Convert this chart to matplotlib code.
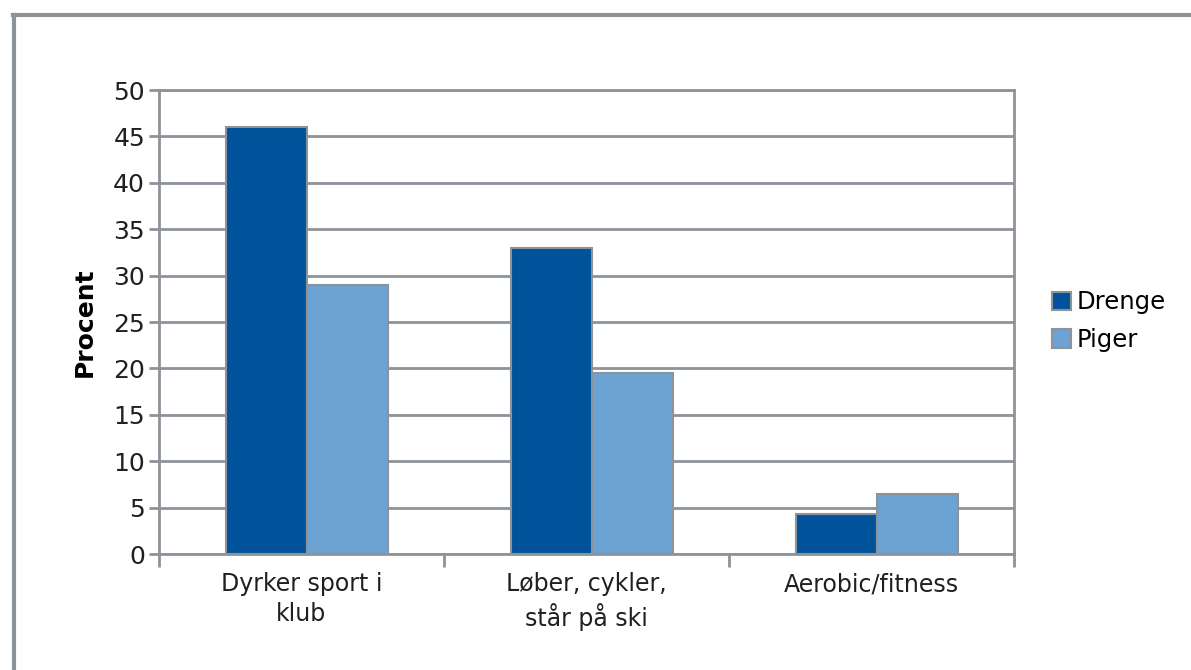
import matplotlib.pyplot as plt
from matplotlib.lines import Line2D

categories = ["Dyrker sport i\nklub", "Løber, cykler,\nstår på ski", "Aerobic/fitness"]
drenge = [46, 33, 4.3]
piger = [29, 19.5, 6.5]
yticks = [0, 5, 10, 15, 20, 25, 30, 35, 40, 45, 50]

gray = "#8c9399"
c_drenge = "#00539a"
c_piger = "#6ca3d3"

fig = plt.figure(figsize=(11.91, 6.70), dpi=100)
ax = fig.add_axes([159 / 1191, 1 - 554 / 670, (1014 - 159) / 1191, (554 - 90) / 670])

w = 0.285
x = range(len(categories))
ax.bar([i - w / 2 + 0.02 for i in x], drenge, width=w, color=c_drenge,
       edgecolor=gray, linewidth=1.5, label="Drenge", zorder=3)
ax.bar([i + w / 2 + 0.02 for i in x], piger, width=w, color=c_piger,
       edgecolor=gray, linewidth=1.5, label="Piger", zorder=3)

ax.set_xlim(-0.5, 2.5)
ax.set_ylim(0, 50)
ax.set_yticks(yticks)
ax.yaxis.grid(True, color=gray, linewidth=2, zorder=0)
ax.set_axisbelow(True)

ax.set_xticks([-0.5, 0.5, 1.5, 2.5])
ax.set_xticklabels([])
ax.tick_params(axis="x", length=9, width=2, color=gray)
ax.set_xticks(list(x), minor=True)
ax.set_xticklabels(categories, minor=True, fontsize=17, color="#231f20",
                   linespacing=1.3)
ax.tick_params(axis="x", which="minor", length=0, pad=13)
ax.tick_params(axis="y", length=7, width=2, color=gray, labelsize=18,
               labelcolor="#231f20", pad=3)

for s in ax.spines.values():
    s.set_color(gray)
    s.set_linewidth(2)

ax.set_ylabel("Procent", fontsize=18, fontweight="bold", labelpad=12)

fig.legend(loc="center left", bbox_to_anchor=(1030 / 1191, 1 - 321 / 670),
           frameon=False, fontsize=17.5, handlelength=0.8, handleheight=0.8,
           handletextpad=0.2, labelspacing=0.55)

# outer frame (top and left only)
fig.add_artist(Line2D([13 / 1191, 1], [1 - 15 / 670, 1 - 15 / 670],
                      transform=fig.transFigure, color=gray, linewidth=3))
fig.add_artist(Line2D([14 / 1191, 14 / 1191], [0, 1 - 15 / 670],
                      transform=fig.transFigure, color=gray, linewidth=3))

fig.savefig("out.png", dpi=100)
